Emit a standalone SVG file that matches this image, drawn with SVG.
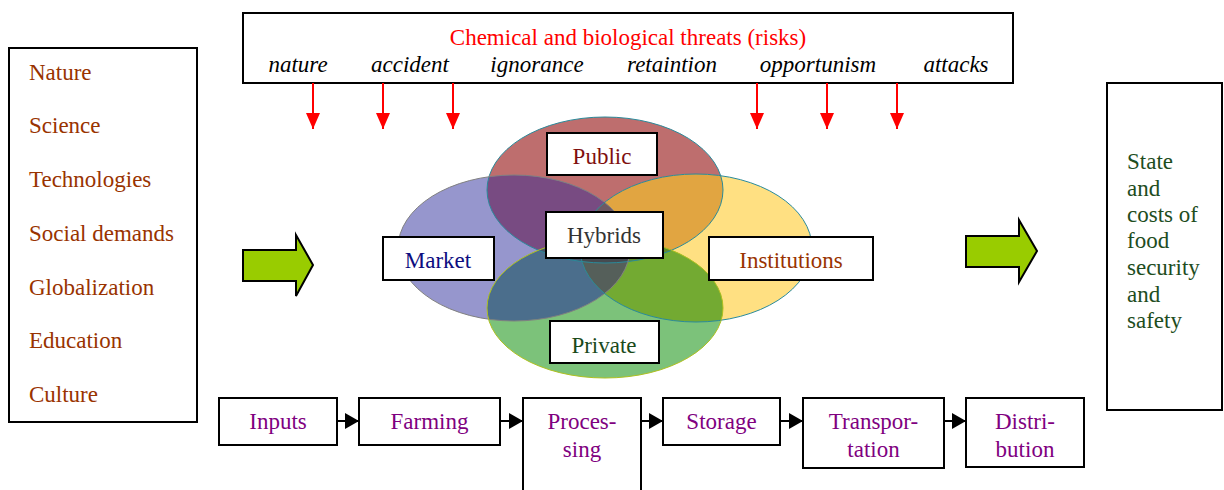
<svg xmlns="http://www.w3.org/2000/svg" width="1224" height="490" viewBox="0 0 1224 490">
<defs>
<style>
text{font-family:"Liberation Serif","Times New Roman",serif;font-size:23px}
.box{fill:#fff;stroke:#000;stroke-width:2}
.lst{fill:#993300}
.it{font-style:italic;fill:#000;text-anchor:middle}
.mid{text-anchor:middle}
.pur{fill:#800080;text-anchor:middle}
.red{stroke:#ff0000;stroke-width:2;fill:none}
.blk{stroke:#000;stroke-width:2;fill:none}
.garr{fill:#99cc00;stroke:#000;stroke-width:2;stroke-linejoin:miter}
</style>
<ellipse id="eR" cx="605" cy="190" rx="118" ry="73"/>
<ellipse id="eB" cx="514" cy="248" rx="116" ry="73"/>
<ellipse id="eY" cx="696" cy="248" rx="116" ry="74"/>
<ellipse id="eG" cx="605" cy="308" rx="118" ry="70"/>
<clipPath id="cR"><use href="#eR"/></clipPath>
<clipPath id="cB"><use href="#eB"/></clipPath>
<clipPath id="cY"><use href="#eY"/></clipPath>
<clipPath id="cG"><use href="#eG"/></clipPath>
<marker id="rh" viewBox="0 0 16 14" refX="16" refY="7" markerWidth="16" markerHeight="14" markerUnits="userSpaceOnUse" orient="auto">
<path d="M0,0 L16,7 L0,14 Z" fill="#ff0000"/>
</marker>
<marker id="bh" viewBox="0 0 14 16" refX="14" refY="8" markerWidth="14" markerHeight="16" markerUnits="userSpaceOnUse" orient="auto">
<path d="M0,0 L14,8 L0,16 Z" fill="#000"/>
</marker>
</defs>
<rect width="1224" height="490" fill="#fff"/>

<g id="threats">
<rect class="box" x="243" y="13" width="770" height="70"/>
<text x="628" y="45" class="mid" fill="#ff0000">Chemical and biological threats (risks)</text>
<text class="it" x="298" y="72">nature</text>
<text class="it" x="410" y="72">accident</text>
<text class="it" x="537" y="72">ignorance</text>
<text class="it" x="672" y="72">retaintion</text>
<text class="it" x="818" y="72">opportunism</text>
<text class="it" x="956" y="72">attacks</text>
</g>

<g id="drivers">
<rect class="box" x="9" y="48" width="188" height="374"/>
<text class="lst" x="29" y="80">Nature</text>
<text class="lst" x="29" y="133">Science</text>
<text class="lst" x="29" y="187">Technologies</text>
<text class="lst" x="29" y="241">Social demands</text>
<text class="lst" x="29" y="295">Globalization</text>
<text class="lst" x="29" y="348">Education</text>
<text class="lst" x="29" y="402">Culture</text>
</g>

<g id="outcome">
<rect class="box" x="1107" y="83" width="115" height="327"/>
<g fill="#1e4d1e">
<text x="1127" y="169">State</text>
<text x="1127" y="196">and</text>
<text x="1127" y="222">costs of</text>
<text x="1127" y="248">food</text>
<text x="1127" y="275">security</text>
<text x="1127" y="302">and</text>
<text x="1127" y="328">safety</text>
</g>
</g>

<g id="venn">
<use href="#eR" fill="#be6e6e"/>
<use href="#eB" fill="#9696cd"/>
<use href="#eY" fill="#ffe082"/>
<use href="#eG" fill="#7cc27a"/>
<use href="#eB" fill="#784b82" clip-path="url(#cR)"/>
<use href="#eY" fill="#e1a541" clip-path="url(#cR)"/>
<use href="#eG" fill="#6e8c5a" clip-path="url(#cR)"/>
<use href="#eY" fill="#7a6a78" clip-path="url(#cB)"/>
<use href="#eG" fill="#4b6e8c" clip-path="url(#cB)"/>
<use href="#eG" fill="#73aa32" clip-path="url(#cY)"/>
<g clip-path="url(#cR)"><use href="#eY" fill="#6e5a64" clip-path="url(#cB)"/></g>
<g clip-path="url(#cR)"><use href="#eG" fill="#46566e" clip-path="url(#cB)"/></g>
<g clip-path="url(#cR)"><use href="#eG" fill="#5f8c2d" clip-path="url(#cY)"/></g>
<g clip-path="url(#cB)"><use href="#eG" fill="#555f5a" clip-path="url(#cY)"/></g>
<g clip-path="url(#cR)"><g clip-path="url(#cB)"><use href="#eG" fill="#464b50" clip-path="url(#cY)"/></g></g>
<use href="#eR" fill="none" stroke="#2a8a9a" stroke-width="1"/>
<use href="#eB" fill="none" stroke="#808080" stroke-width="1"/>
<use href="#eY" fill="none" stroke="#2a8a9a" stroke-width="1"/>
<use href="#eG" fill="none" stroke="#b0c020" stroke-width="1"/>
</g>

<g id="public">
<rect class="box" x="547" y="133" width="110" height="42"/>
<text x="602" y="164" class="mid" fill="#7f0f0f">Public</text>
</g>
<g id="hybrids">
<rect class="box" x="546" y="212" width="117" height="46"/>
<text x="604" y="243" class="mid" fill="#333">Hybrids</text>
</g>
<g id="market">
<rect class="box" x="383" y="237" width="111" height="43"/>
<text x="438" y="268" class="mid" fill="#0d0d80">Market</text>
</g>
<g id="institutions">
<rect class="box" x="709" y="237" width="164" height="43"/>
<text x="791" y="268" class="mid" fill="#993300">Institutions</text>
</g>
<g id="private">
<rect class="box" x="550" y="321" width="109" height="42"/>
<text x="604" y="353" class="mid" fill="#1a4a1a">Private</text>
</g>

<g id="inputs"><rect class="box" x="219" y="398" width="118" height="47"/><text class="pur" x="278" y="429">Inputs</text></g>
<g id="farming"><rect class="box" x="359" y="398" width="141" height="47"/><text class="pur" x="429.5" y="429">Farming</text></g>
<g id="processing"><rect class="box" x="523" y="398" width="118" height="100"/><text class="pur" x="582" y="429">Proces-</text><text class="pur" x="582" y="457">sing</text></g>
<g id="storage"><rect class="box" x="663" y="398" width="117" height="47"/><text class="pur" x="721.5" y="429">Storage</text></g>
<g id="transportation"><rect class="box" x="803" y="398" width="141" height="70"/><text class="pur" x="873.5" y="429">Transpor-</text><text class="pur" x="873.5" y="457">tation</text></g>
<g id="distribution"><rect class="box" x="966" y="398" width="118" height="69"/><text class="pur" x="1025" y="429">Distri-</text><text class="pur" x="1025" y="457">bution</text></g>

<g id="connectors">
<line class="red" x1="313" y1="83" x2="313" y2="129" marker-end="url(#rh)"/>
<line class="red" x1="383" y1="83" x2="383" y2="129" marker-end="url(#rh)"/>
<line class="red" x1="453" y1="83" x2="453" y2="129" marker-end="url(#rh)"/>
<line class="red" x1="757" y1="83" x2="757" y2="129" marker-end="url(#rh)"/>
<line class="red" x1="827" y1="83" x2="827" y2="129" marker-end="url(#rh)"/>
<line class="red" x1="897" y1="83" x2="897" y2="129" marker-end="url(#rh)"/>
<line class="blk" x1="338" y1="421" x2="359" y2="421" marker-end="url(#bh)"/>
<line class="blk" x1="501" y1="421" x2="523" y2="421" marker-end="url(#bh)"/>
<line class="blk" x1="642" y1="421" x2="663" y2="421" marker-end="url(#bh)"/>
<line class="blk" x1="781" y1="421" x2="803" y2="421" marker-end="url(#bh)"/>
<line class="blk" x1="945" y1="421" x2="966" y2="421" marker-end="url(#bh)"/>
<path class="garr" d="M243,250 L296,250 L296,235 L313,265 L296,296 L296,281 L243,281 Z"/>
<path class="garr" d="M966,236 L1019,236 L1019,220 L1037,251 L1019,282 L1019,267 L966,267 Z"/>
</g>
</svg>
